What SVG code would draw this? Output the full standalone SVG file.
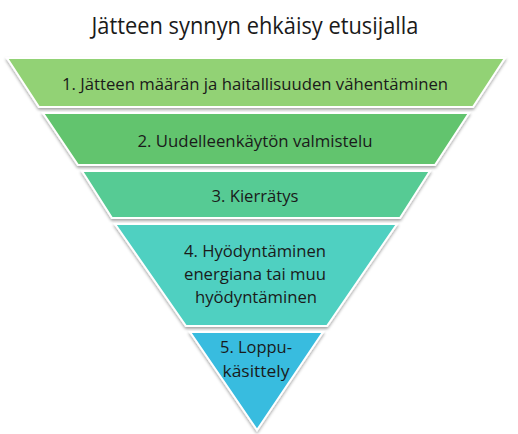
<svg xmlns="http://www.w3.org/2000/svg" width="518" height="434" viewBox="0 0 518 434">
<defs>
<filter id="sh" x="-10%" y="-20%" width="120%" height="150%">
<feDropShadow dx="0" dy="2" stdDeviation="1.5" flood-color="#000" flood-opacity="0.35"/>
</filter>
</defs>
<style>
.band{stroke:#fff;stroke-width:2;filter:url(#sh)}
.t{font-family:"Open Sans","DejaVu Sans",sans-serif;fill:#1a1a1a;text-anchor:middle}
.lbl{font-size:16px}
.title{font-size:23px}
</style>
<rect width="518" height="434" fill="#fff"/>
<text class="t title" x="255" y="34" textLength="327" lengthAdjust="spacingAndGlyphs">Jätteen synnyn ehkäisy etusijalla</text>
<g id="level1">
<polygon class="band" points="7,58 505,58 473,107 39,107" fill="#92D275"/>
<text class="t lbl" x="255" y="90" textLength="386" lengthAdjust="spacingAndGlyphs">1. Jätteen määrän ja haitallisuuden vähentäminen</text>
</g>
<g id="level2">
<polygon class="band" points="43,113 469,113 435,165 78,165" fill="#62C46E"/>
<text class="t lbl" x="255" y="147" textLength="235" lengthAdjust="spacingAndGlyphs">2. Uudelleenkäytön valmistelu</text>
</g>
<g id="level3">
<polygon class="band" points="82,171 430,171 400,218 112,218" fill="#56CB94"/>
<text class="t lbl" x="255" y="202" textLength="87" lengthAdjust="spacingAndGlyphs">3. Kierrätys</text>
</g>
<g id="level4">
<polygon class="band" points="115,224 397,224 327,326 186,326" fill="#50D0C1"/>
<text class="t lbl" x="255" y="257" textLength="142" lengthAdjust="spacingAndGlyphs">4. Hyödyntäminen</text>
<text class="t lbl" x="255" y="280" textLength="142" lengthAdjust="spacingAndGlyphs">energiana tai muu</text>
<text class="t lbl" x="256" y="303" textLength="122" lengthAdjust="spacingAndGlyphs">hyödyntäminen</text>
</g>
<g id="level5">
<polygon class="band" points="190,332 323,332 257,430" fill="#37BCDF"/>
<text class="t lbl" x="256" y="353" textLength="72" lengthAdjust="spacingAndGlyphs">5. Loppu-</text>
<text class="t lbl" x="256" y="377" textLength="67" lengthAdjust="spacingAndGlyphs">käsittely</text>
</g>
<g id="connectors"/>
</svg>
